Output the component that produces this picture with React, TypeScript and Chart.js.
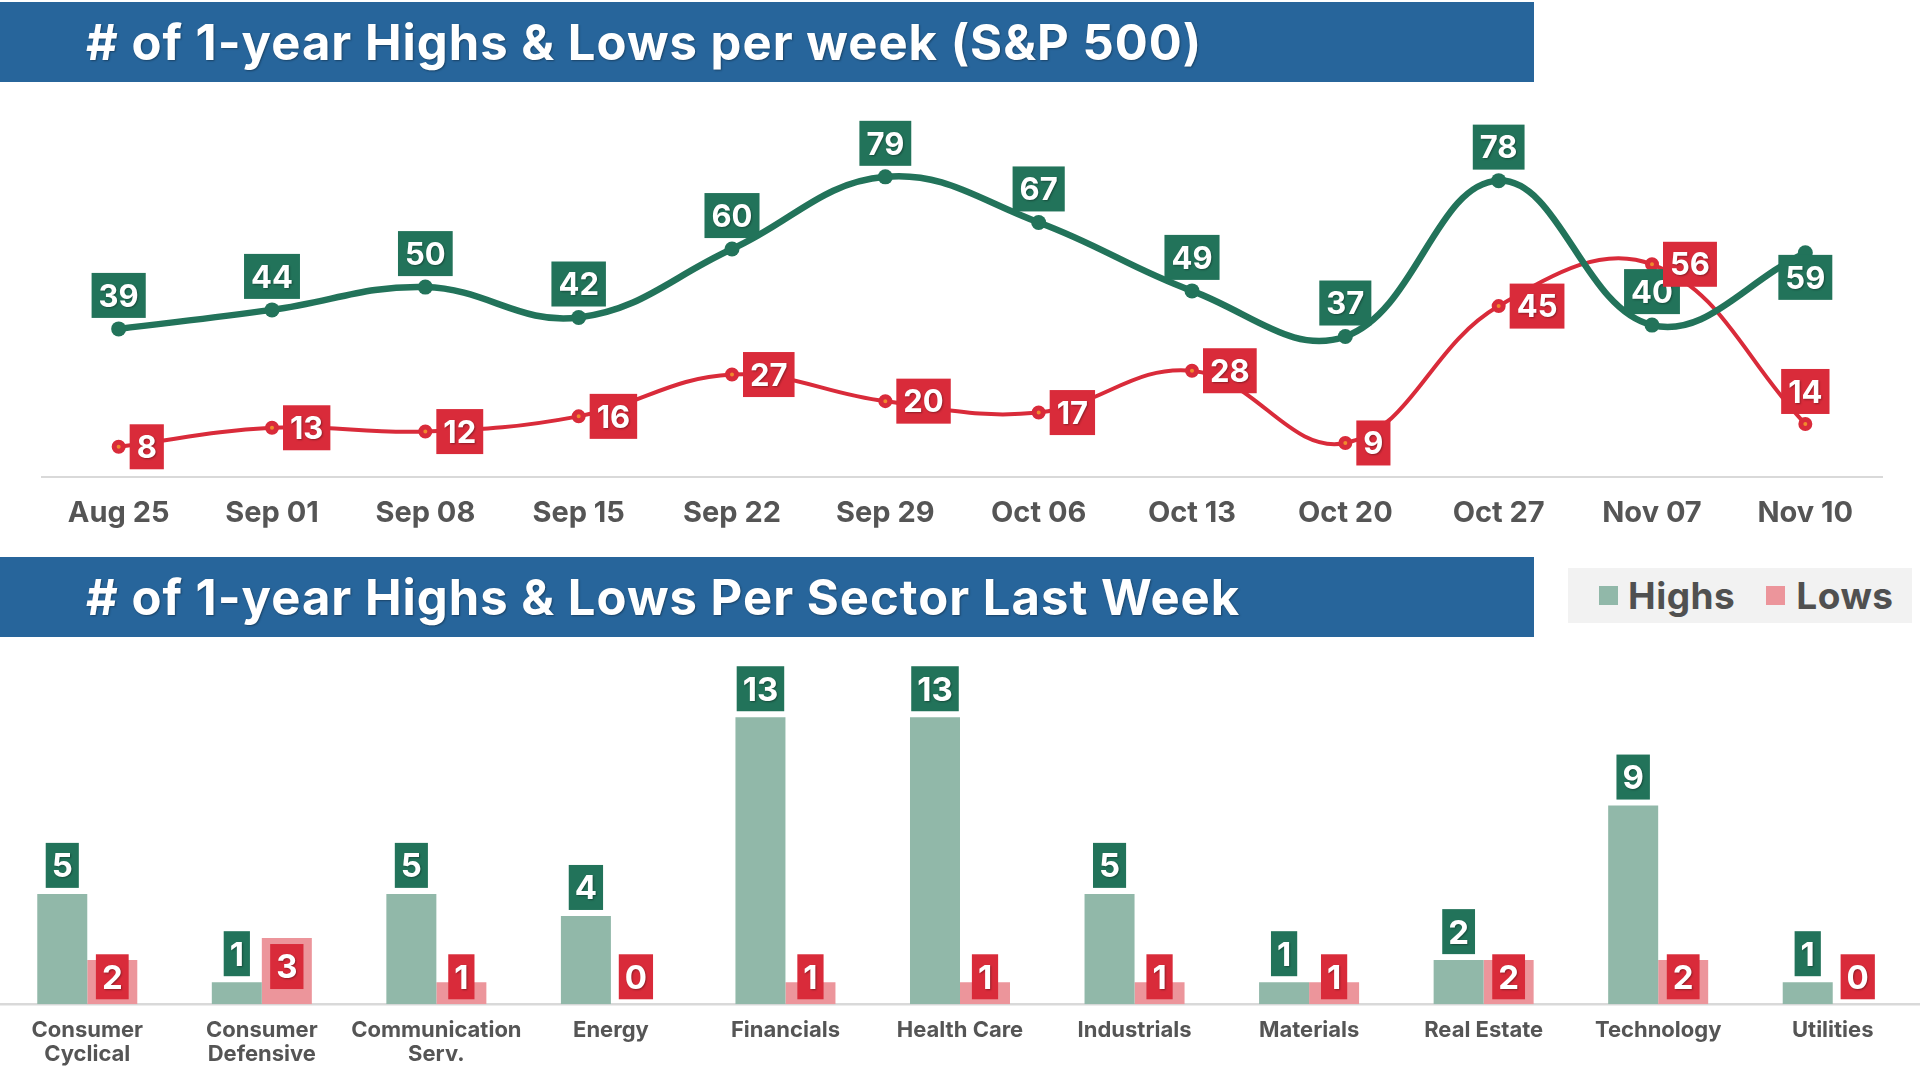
import React, { useEffect, useRef } from "react";
import { Chart, registerables } from "chart.js";
Chart.register(...registerables);

// ---------- data ----------
const weeks = ["Aug 25", "Sep 01", "Sep 08", "Sep 15", "Sep 22", "Sep 29", "Oct 06", "Oct 13", "Oct 20", "Oct 27", "Nov 07", "Nov 10"];
const weeklyHighs = [39, 44, 50, 42, 60, 79, 67, 49, 37, 78, 40, 59];
const weeklyLows = [8, 13, 12, 16, 27, 20, 17, 28, 9, 45, 56, 14];

const sectors: (string | string[])[] = [
  ["Consumer", "Cyclical"],
  ["Consumer", "Defensive"],
  ["Communication", "Serv."],
  "Energy",
  "Financials",
  "Health Care",
  "Industrials",
  "Materials",
  "Real Estate",
  "Technology",
  "Utilities",
];
const sectorHighs = [5, 1, 5, 4, 13, 13, 5, 1, 2, 9, 1];
const sectorLows = [2, 3, 1, 0, 1, 1, 1, 1, 2, 2, 0];

// label placement overrides (style only)
const highsLabelSide = ["top", "top", "top", "top", "top", "top", "top", "top", "top", "top", "top", "bottom"];
const lowsLabelSide = ["right", "right", "right", "right", "right", "right", "right", "right", "right", "right", "right", "top"];

// ---------- style ----------
const FONT = "Inter, 'Open Sans', 'Noto Sans', sans-serif";
const TITLE_BLUE = "#27659B";
const DARK_GREEN = "#22735A";
const RED = "#D92B3A";
const ORANGE = "#F08A2C";
const BAR_GREEN = "#91B8A9";
const BAR_RED = "#EC959B";
const AXIS_GRAY = "#D9D9D9";
const TEXT_GRAY = "#555555";

function measure(ctx: CanvasRenderingContext2D, text: string, size: number, padX: number) {
  ctx.font = `700 ${size}px ${FONT}`;
  return ctx.measureText(text).width + padX * 2;
}

function drawBox(
  ctx: CanvasRenderingContext2D,
  text: string,
  left: number,
  top: number,
  w: number,
  h: number,
  bg: string,
  size: number
) {
  ctx.save();
  ctx.fillStyle = bg;
  ctx.fillRect(left, top, w, h);
  ctx.font = `700 ${size}px ${FONT}`;
  ctx.fillStyle = "#ffffff";
  ctx.textAlign = "center";
  ctx.textBaseline = "alphabetic";
  ctx.shadowColor = "rgba(0,0,0,0.35)";
  ctx.shadowBlur = 2;
  ctx.shadowOffsetX = 1;
  ctx.shadowOffsetY = 1;
  ctx.fillText(text, left + w / 2, top + h / 2 + size * 0.362);
  ctx.restore();
}

const lineLabelPlugin = {
  id: "lineBoxLabels",
  afterDatasetsDraw(chart: any) {
    const ctx = chart.ctx as CanvasRenderingContext2D;
    const size = 31;
    const h = 45;
    const padX = 7;
    chart.getDatasetMeta(0).data.forEach((pt: any, i: number) => {
      const t = String(weeklyHighs[i]);
      const w = measure(ctx, t, size, padX);
      if (highsLabelSide[i] === "bottom") {
        drawBox(ctx, t, pt.x - w / 2, pt.y + 2, w, h, DARK_GREEN, size);
      } else {
        drawBox(ctx, t, pt.x - w / 2, pt.y - 11 - h, w, h, DARK_GREEN, size);
      }
    });
    chart.getDatasetMeta(1).data.forEach((pt: any, i: number) => {
      const t = String(weeklyLows[i]);
      const w = measure(ctx, t, size, padX);
      if (lowsLabelSide[i] === "top") {
        drawBox(ctx, t, pt.x - w / 2, pt.y - 10 - h, w, h, RED, size);
      } else {
        drawBox(ctx, t, pt.x + 11, pt.y - h / 2, w, h, RED, size);
      }
    });
  },
};

const barLabelPlugin = {
  id: "barBoxLabels",
  afterDatasetsDraw(chart: any) {
    const ctx = chart.ctx as CanvasRenderingContext2D;
    const size = 33;
    const h = 45;
    const padX = 6;
    chart.getDatasetMeta(0).data.forEach((bar: any, i: number) => {
      const t = String(sectorHighs[i]);
      const w = measure(ctx, t, size, padX);
      drawBox(ctx, t, bar.x - w / 2, bar.y - 6 - h, w, h, DARK_GREEN, size);
    });
    chart.getDatasetMeta(1).data.forEach((bar: any, i: number) => {
      const t = String(sectorLows[i]);
      const w = measure(ctx, t, size, padX);
      const top = Math.min(bar.y + 6, bar.base - 5 - h);
      drawBox(ctx, t, bar.x - w / 2, top, w, h, RED, size);
    });
  },
};

const titleStyle = (top: number): React.CSSProperties => ({
  position: "absolute",
  left: 0,
  top,
  width: 1534,
  height: 80,
  background: TITLE_BLUE,
  color: "#ffffff",
  fontFamily: FONT,
  fontWeight: 700,
  fontSize: 49,
  letterSpacing: "1px",
  display: "flex",
  alignItems: "center",
  paddingLeft: 86,
  boxSizing: "border-box",
  whiteSpace: "nowrap",
  textShadow: "1px 1px 2px rgba(0,0,0,0.35)",
});

export default function App() {
  const lineRef = useRef<HTMLCanvasElement>(null);
  const barRef = useRef<HTMLCanvasElement>(null);

  useEffect(() => {
    Chart.defaults.font.family = FONT;

    const lineChart = new Chart(lineRef.current as HTMLCanvasElement, {
      type: "line",
      data: {
        labels: weeks,
        datasets: [
          {
            label: "Highs",
            data: weeklyHighs,
            borderColor: DARK_GREEN,
            backgroundColor: DARK_GREEN,
            borderWidth: 6.5,
            pointRadius: 7.5,
            pointBorderWidth: 0,
            pointBackgroundColor: DARK_GREEN,
            tension: 0.4,
            fill: false,
          },
          {
            label: "Lows",
            data: weeklyLows,
            borderColor: RED,
            backgroundColor: RED,
            borderWidth: 4,
            pointRadius: 4.5,
            pointBorderWidth: 5,
            pointBorderColor: RED,
            pointBackgroundColor: ORANGE,
            tension: 0.4,
            fill: false,
          },
        ],
      },
      options: {
        responsive: false,
        animation: false,
        devicePixelRatio: 1,
        events: [],
        layout: { padding: { left: 42, right: 38, top: 45, bottom: 0 } },
        plugins: { legend: { display: false }, tooltip: { enabled: false } },
        scales: {
          x: {
            type: "category",
            offset: true,
            grid: { display: false, drawTicks: false },
            border: { display: true, color: AXIS_GRAY, width: 2 },
            ticks: {
              padding: 19,
              color: TEXT_GRAY,
              maxRotation: 0,
              minRotation: 0,
              autoSkip: false,
              font: { family: FONT, size: 29, weight: "bold", lineHeight: 1.2 },
            },
          },
          y: { display: false, min: 0, max: 90 },
        },
      },
      plugins: [lineLabelPlugin],
    } as any);

    const barChart = new Chart(barRef.current as HTMLCanvasElement, {
      type: "bar",
      data: {
        labels: sectors,
        datasets: [
          {
            label: "Highs",
            data: sectorHighs,
            backgroundColor: BAR_GREEN,
            borderWidth: 0,
            barPercentage: 1,
            categoryPercentage: 0.573,
          },
          {
            label: "Lows",
            data: sectorLows,
            backgroundColor: BAR_RED,
            borderWidth: 0,
            barPercentage: 1,
            categoryPercentage: 0.573,
          },
        ],
      },
      options: {
        responsive: false,
        animation: false,
        devicePixelRatio: 1,
        events: [],
        layout: { padding: { left: 0, right: 0, top: 14, bottom: 0 } },
        plugins: { legend: { display: false }, tooltip: { enabled: false } },
        scales: {
          x: {
            grid: { display: false, drawTicks: false },
            border: { display: true, color: AXIS_GRAY, width: 2.5 },
            ticks: {
              padding: 14.6,
              color: TEXT_GRAY,
              maxRotation: 0,
              minRotation: 0,
              autoSkip: false,
              font: { family: FONT, size: 22, weight: "bold", lineHeight: 1.08 },
            },
          },
          y: { display: false, min: 0, max: 16 },
        },
      },
      plugins: [barLabelPlugin],
    } as any);

    return () => {
      lineChart.destroy();
      barChart.destroy();
    };
  }, []);

  return (
    <div
      style={{
        position: "fixed",
        left: 0,
        top: 0,
        width: 1920,
        height: 1080,
        background: "#ffffff",
        overflow: "hidden",
        fontFamily: FONT,
      }}
    >
      <div style={titleStyle(2)}># of 1-year Highs &amp; Lows per week (S&amp;P 500)</div>
      <canvas
        ref={lineRef}
        width={1920}
        height={460}
        style={{ position: "absolute", left: 0, top: 90, width: 1920, height: 460 }}
      />
      <div style={titleStyle(557)}># of 1-year Highs &amp; Lows Per Sector Last Week</div>
      <div
        style={{
          position: "absolute",
          left: 1568,
          top: 568,
          width: 344,
          height: 55,
          background: "#F2F2F2",
          display: "flex",
          alignItems: "center",
          paddingLeft: 31,
          boxSizing: "border-box",
          fontFamily: FONT,
          fontWeight: 700,
          fontSize: 37,
          letterSpacing: "0.5px",
          color: "#505050",
          whiteSpace: "nowrap",
        }}
      >
        <span style={{ width: 19, height: 19, background: BAR_GREEN, display: "inline-block", marginRight: 10 }} />
        <span style={{ marginRight: 31 }}>Highs</span>
        <span style={{ width: 19, height: 19, background: BAR_RED, display: "inline-block", marginRight: 11 }} />
        <span>Lows</span>
      </div>
      <canvas
        ref={barRef}
        width={1920}
        height={444}
        style={{ position: "absolute", left: 0, top: 637, width: 1920, height: 444 }}
      />
    </div>
  );
}
